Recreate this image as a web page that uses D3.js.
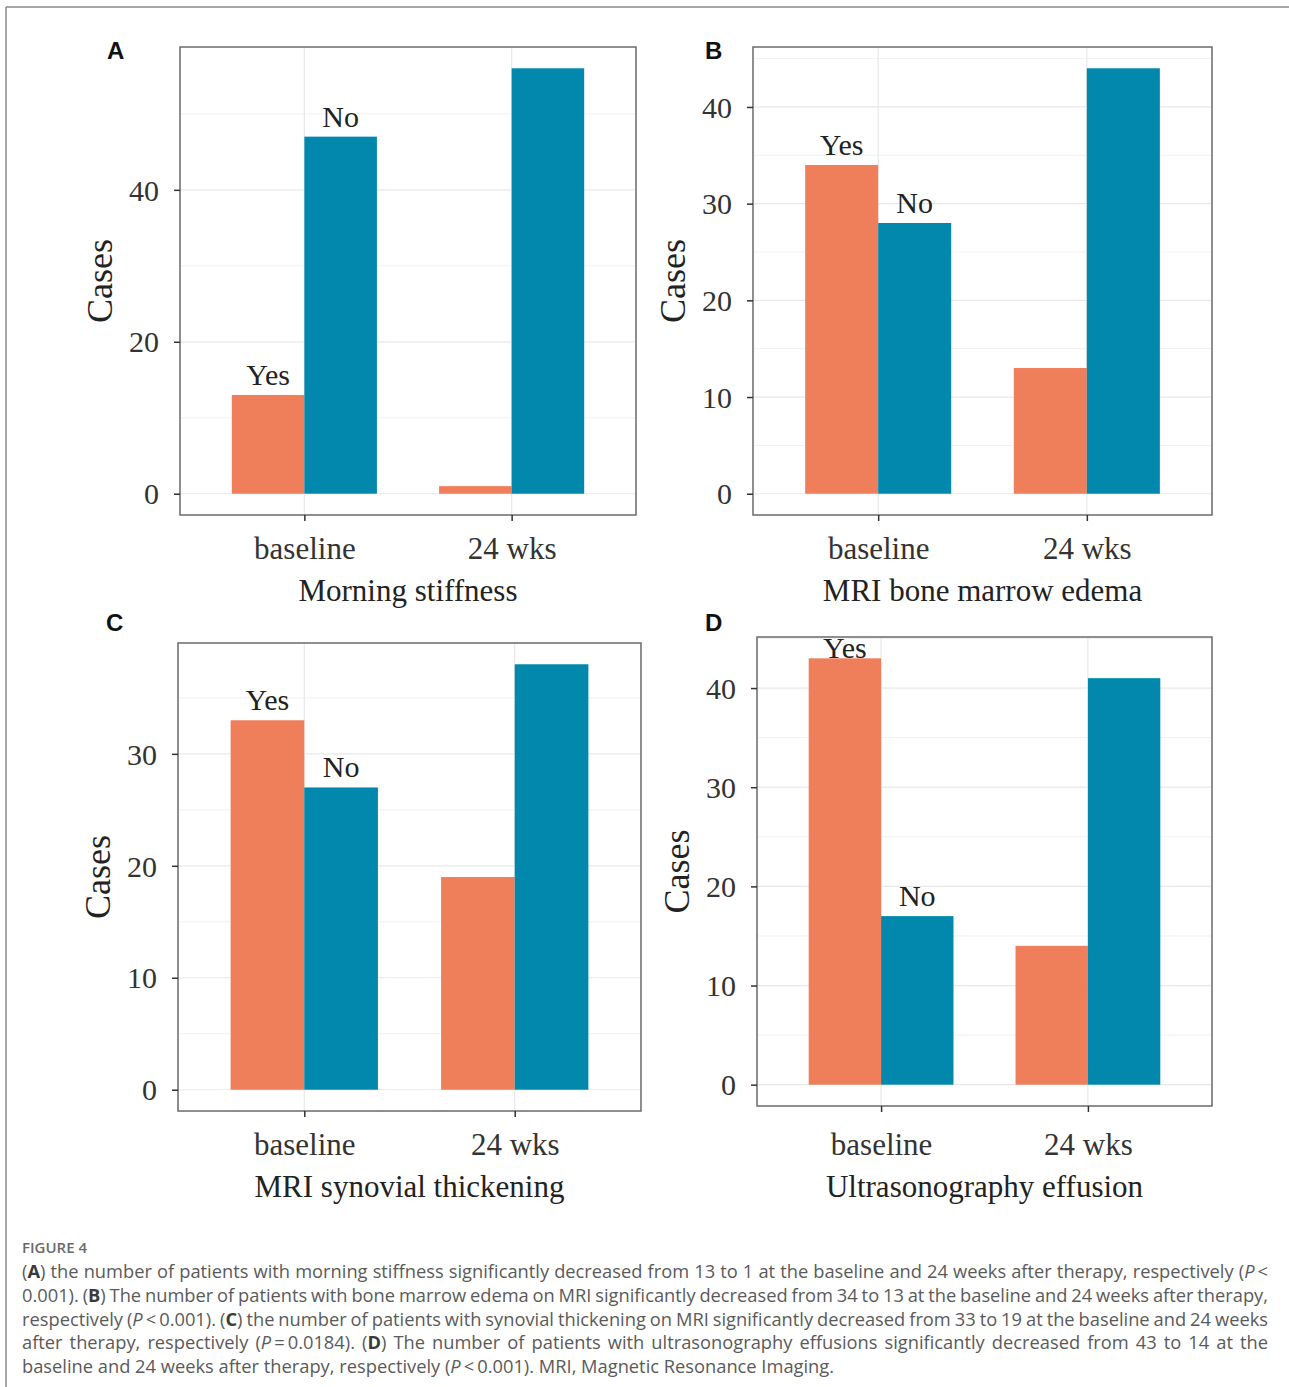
<!DOCTYPE html>
<html>
<head>
<meta charset="utf-8">
<script src="https://cdn.jsdelivr.net/npm/d3@7"></script>
<style>
  html, body { margin: 0; padding: 0; background: #fff; }
  svg { display: block; }
</style>
</head>
<body>
<svg id="chart" width="1289" height="1387"></svg>
<script>
// ---------- DATA ----------
const timepoints = ["baseline", "24 wks"];
const groups = ["Yes", "No"];
const panelLetters = ["A", "B", "C", "D"];
const panelTitles = ["Morning stiffness", "MRI bone marrow edema", "MRI synovial thickening", "Ultrasonography effusion"];
const yesValues = [[13, 1], [34, 13], [33, 19], [43, 14]];
const noValues  = [[47, 56], [28, 44], [27, 38], [17, 41]];
const yTicks = [[0, 20, 40], [0, 10, 20, 30, 40], [0, 10, 20, 30], [0, 10, 20, 30, 40]];
const yMinor = [[10, 30, 50], [5, 15, 25, 35, 45], [5, 15, 25, 35], [5, 15, 25, 35, 45]];
const axisTitleY = "Cases";
const captionHead = "FIGURE 4";
const captionLines = [
  [["(", ""], ["A", "b"], [") the number of patients with morning stiffness significantly decreased from 13 to 1 at the baseline and 24 weeks after therapy, respectively (", ""], ["P", "i"], ["\u2009<", ""]],
  [["0.001). (", ""], ["B", "b"], [") The number of patients with bone marrow edema on MRI significantly decreased from 34 to 13 at the baseline and 24 weeks after therapy,", ""]],
  [["respectively (", ""], ["P", "i"], ["\u2009<\u20090.001). (", ""], ["C", "b"], [") the number of patients with synovial thickening on MRI significantly decreased from 33 to 19 at the baseline and 24 weeks", ""]],
  [["after therapy, respectively (", ""], ["P", "i"], ["\u2009=\u20090.0184). (", ""], ["D", "b"], [") The number of patients with ultrasonography effusions significantly decreased from 43 to 14 at the", ""]],
  [["baseline and 24 weeks after therapy, respectively (", ""], ["P", "i"], ["\u2009<\u20090.001). MRI, Magnetic Resonance Imaging.", ""]]
];

// ---------- LAYOUT ----------
const panels = [
  { left: 180, right: 636, top: 47, bottom: 515, labelBase: 515, letterX: 107, letterY: 59 },
  { left: 753, right: 1212, top: 47, bottom: 515, labelBase: 515, letterX: 705, letterY: 59 },
  { left: 178, right: 641, top: 643, bottom: 1111, labelBase: 1111, letterX: 106, letterY: 631 },
  { left: 757, right: 1212, top: 637, bottom: 1106, labelBase: 1111, letterX: 705, letterY: 631 }
];
const colors = { Yes: "#EF7F5B", No: "#0188AC" };
const serif = "'Liberation Serif', 'Times New Roman', serif";

const svg = d3.select("#chart");

// outer frame (top + left edges visible)
svg.append("line").attr("x1", 6).attr("x2", 1289).attr("y1", 7).attr("y2", 7)
  .attr("stroke", "#8a8a8a").attr("stroke-width", 1.5);
svg.append("line").attr("x1", 6).attr("x2", 6).attr("y1", 7).attr("y2", 1387)
  .attr("stroke", "#8a8a8a").attr("stroke-width", 1.5);

panels.forEach((p, i) => {
  const g = svg.append("g");
  const maxV = d3.max([...yesValues[i], ...noValues[i]]);
  const y = d3.scaleLinear().domain([-0.05 * maxV, 1.05 * maxV]).range([p.bottom, p.top]);
  const x = d3.scalePoint().domain(timepoints).range([p.left, p.right]).padding(0.6);
  const step = x.step();
  const xg = d3.scaleBand().domain(groups).range([-0.35 * step, 0.35 * step]).padding(0);

  // grid
  g.selectAll(".minor").data(yMinor[i].filter(v => y(v) > p.top && y(v) < p.bottom)).enter().append("line")
    .attr("x1", p.left).attr("x2", p.right).attr("y1", d => y(d)).attr("y2", d => y(d))
    .attr("stroke", "#F0F0F0").attr("stroke-width", 1);
  g.selectAll(".major").data(yTicks[i]).enter().append("line")
    .attr("x1", p.left).attr("x2", p.right).attr("y1", d => y(d)).attr("y2", d => y(d))
    .attr("stroke", "#E8E8E8").attr("stroke-width", 1.2);
  g.selectAll(".vmajor").data(timepoints).enter().append("line")
    .attr("x1", d => x(d)).attr("x2", d => x(d)).attr("y1", p.top).attr("y2", p.bottom)
    .attr("stroke", "#E8E8E8").attr("stroke-width", 1.2);

  // bars
  const rows = [];
  timepoints.forEach((t, k) => {
    rows.push({ t, grp: "Yes", v: yesValues[i][k] });
    rows.push({ t, grp: "No", v: noValues[i][k] });
  });
  g.selectAll(".bar").data(rows).enter().append("rect")
    .attr("x", d => x(d.t) + xg(d.grp))
    .attr("width", xg.bandwidth())
    .attr("y", d => y(d.v))
    .attr("height", d => y(0) - y(d.v))
    .attr("fill", d => colors[d.grp]);

  // panel border
  g.append("rect").attr("x", p.left).attr("y", p.top)
    .attr("width", p.right - p.left).attr("height", p.bottom - p.top)
    .attr("fill", "none").attr("stroke", "#6a6a6a").attr("stroke-width", 1.5);

  // bar labels (baseline group)
  const base = rows.filter(d => d.t === timepoints[0]);
  g.selectAll(".lab").data(base).enter().append("text")
    .attr("x", d => x(d.t) + xg(d.grp) + xg.bandwidth() / 2)
    .attr("y", d => Math.max(y(d.v) - 10, p.top + 21))
    .attr("text-anchor", "middle")
    .attr("font-family", serif).attr("font-size", 30).attr("fill", "#222")
    .text(d => d.grp);

  // axes
  const yAxis = g.append("g").attr("transform", `translate(${p.left},0)`)
    .call(d3.axisLeft(y).tickValues(yTicks[i]).tickSize(6).tickPadding(15).tickFormat(d3.format("d")));
  const xAxis = g.append("g").attr("transform", `translate(0,${p.bottom})`)
    .call(d3.axisBottom(x).tickSize(6).tickPadding(16 + (p.labelBase - p.bottom)));
  [yAxis, xAxis].forEach(a => {
    a.select(".domain").remove();
    a.selectAll(".tick line").attr("stroke", "#333").attr("stroke-width", 1.5);
    a.selectAll(".tick text").attr("font-family", serif).attr("font-size", 31).attr("fill", "#333");
  });
  yAxis.selectAll(".tick text").attr("font-size", 30).attr("dy", "0.34em");
  xAxis.selectAll(".tick text").attr("dy", "0.72em");

  // axis titles
  g.append("text").attr("x", (p.left + p.right) / 2).attr("y", p.labelBase + 86)
    .attr("text-anchor", "middle").attr("font-family", serif).attr("font-size", 31).attr("fill", "#222")
    .text(panelTitles[i]);
  g.append("text")
    .attr("transform", `translate(${p.left - 68},${(p.top + p.bottom) / 2}) rotate(-90)`)
    .attr("text-anchor", "middle").attr("font-family", serif).attr("font-size", 36).attr("fill", "#222")
    .text(axisTitleY);

  // panel letter
  svg.append("text").attr("x", p.letterX).attr("y", p.letterY)
    .attr("font-family", "'Liberation Sans', Arial, sans-serif").attr("font-weight", "bold")
    .attr("font-size", 24).attr("fill", "#111").text(panelLetters[i]);
});

// caption
const capFont = "'Open Sans', 'Noto Sans', sans-serif";
svg.append("text").attr("x", 22).attr("y", 1253)
  .attr("font-family", capFont).attr("font-size", 15).attr("font-weight", 600)
  .attr("fill", "#6a6a6a").text(captionHead);

const capLeft = 22, capRight = 1268, capTop = 1278, capLH = 23.8;
captionLines.forEach((line, li) => {
  const t = svg.append("text").attr("x", capLeft).attr("y", capTop + li * capLH)
    .attr("font-family", capFont).attr("font-size", 18.3).attr("fill", "#5a5a5a");
  line.forEach(([s, st]) => {
    const ts = t.append("tspan").text(s);
    if (st === "b") ts.attr("font-weight", 700).attr("fill", "#3a3a3a");
    if (st === "i") ts.attr("font-style", "italic");
  });
  if (li < captionLines.length - 1) {
    const natural = t.node().getComputedTextLength();
    const full = line.map(d => d[0]).join("");
    const spaces = (full.match(/ /g) || []).length;
    if (spaces > 0) t.style("word-spacing", ((capRight - capLeft - natural) / spaces) + "px");
  }
});
</script>
</body>
</html>
